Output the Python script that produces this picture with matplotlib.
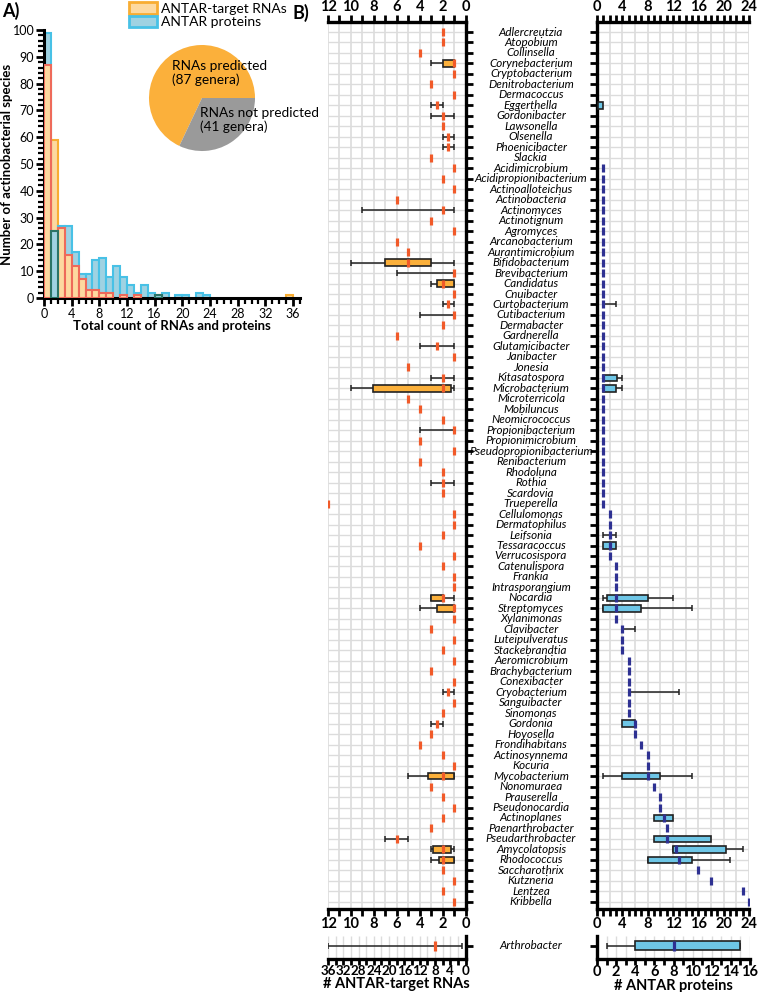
import numpy as np
import matplotlib
matplotlib.use('Agg')
import matplotlib.pyplot as plt
from matplotlib import transforms
from matplotlib.patches import Patch
from matplotlib.ticker import MultipleLocator, NullFormatter

plt.rcParams['font.family'] = ['Lato', 'DejaVu Sans']

# ---------------- Panel A data ----------------
hist_bins = list(range(37))
rna_counts = [87, 59, 26, 16, 12, 7, 3, 3, 2, 2, 0, 1, 0, 1, 0, 0, 1, 0, 0, 0,
              0, 0, 0, 0, 0, 0, 0, 0, 0, 0, 0, 0, 0, 0, 0, 1, 0]
prot_counts = [99, 25, 27, 27, 17, 9, 9, 14, 15, 8, 12, 8, 5, 2, 5, 2, 1, 2, 0, 1,
               1, 0, 2, 1, 0, 0, 0, 0, 0, 0, 0, 0, 0, 0, 0, 0, 0]
pie_values = [87, 41]
pie_labels = ['RNAs predicted\n(87 genera)', 'RNAs not predicted\n(41 genera)']
legend_labels = ['ANTAR-target RNAs', 'ANTAR proteins']

# ---------------- Panel B data ----------------
genera = ['Adlercreutzia', 'Atopobium', 'Collinsella', 'Corynebacterium', 'Cryptobacterium',
          'Denitrobacterium', 'Dermacoccus', 'Eggerthella', 'Gordonibacter', 'Lawsonella',
          'Olsenella', 'Phoenicibacter', 'Slackia', 'Acidimicrobium', 'Acidipropionibacterium',
          'Actinoalloteichus', 'Actinobacteria', 'Actinomyces', 'Actinotignum', 'Agromyces',
          'Arcanobacterium', 'Aurantimicrobium', 'Bifidobacterium', 'Brevibacterium', 'Candidatus',
          'Cnuibacter', 'Curtobacterium', 'Cutibacterium', 'Dermabacter', 'Gardnerella',
          'Glutamicibacter', 'Janibacter', 'Jonesia', 'Kitasatospora', 'Microbacterium',
          'Microterricola', 'Mobiluncus', 'Neomicrococcus', 'Propionibacterium', 'Propionimicrobium',
          'Pseudopropionibacterium', 'Renibacterium', 'Rhodoluna', 'Rothia', 'Scardovia',
          'Trueperella', 'Cellulomonas', 'Dermatophilus', 'Leifsonia', 'Tessaracoccus',
          'Verrucosispora', 'Catenulispora', 'Frankia', 'Intrasporangium', 'Nocardia',
          'Streptomyces', 'Xylanimonas', 'Clavibacter', 'Luteipulveratus', 'Stackebrandtia',
          'Aeromicrobium', 'Brachybacterium', 'Conexibacter', 'Cryobacterium', 'Sanguibacter',
          'Sinomonas', 'Gordonia', 'Hoyosella', 'Frondihabitans', 'Actinosynnema',
          'Kocuria', 'Mycobacterium', 'Nonomuraea', 'Prauserella', 'Pseudonocardia',
          'Actinoplanes', 'Paenarthrobacter', 'Pseudarthrobacter', 'Amycolatopsis', 'Rhodococcus',
          'Saccharothrix', 'Kutzneria', 'Lentzea', 'Kribbella']

rna_median = [2, 2, 4, 1, 1, 3, 1, 2.5, 2, 2,
              1.5, 1.5, 3, 1, 2, 1, 6, 2, 3, 1,
              6, 5, 5, 1, 2, 1, 1.5, 1, 2, 6,
              2.5, 1, 5, 2, 2, 5, 4, 2, 1, 4,
              1, 4, 2, 2, 2, 12, 1, 1, 2, 4,
              1, 2, 1, 1, 2, 1, 1, 3, 1, 2,
              1, 3, 1, 1.5, 1, 2, 2.5, 3, 4, 2,
              1, 2, 3, 2, 1, 2, 3, 6, 2, 2,
              2, 1, 2, 1]
rna_boxes = {'Corynebacterium': (1, 2), 'Bifidobacterium': (3, 7), 'Candidatus': (1, 2.5),
             'Microbacterium': (1.25, 8.1), 'Nocardia': (2, 3), 'Streptomyces': (1, 2.5),
             'Mycobacterium': (1, 3.3), 'Amycolatopsis': (1.25, 2.8), 'Rhodococcus': (1, 2.3)}
rna_whiskers = {'Corynebacterium': (1, 3), 'Eggerthella': (2, 3), 'Gordonibacter': (1, 3),
                'Olsenella': (1, 2), 'Phoenicibacter': (1, 2), 'Actinomyces': (1, 9),
                'Bifidobacterium': (1, 10), 'Brevibacterium': (1, 6), 'Candidatus': (1, 3),
                'Curtobacterium': (1, 2), 'Cutibacterium': (1, 4), 'Glutamicibacter': (1, 4),
                'Kitasatospora': (1, 3), 'Microbacterium': (1, 10), 'Propionibacterium': (1, 4),
                'Rothia': (1, 3), 'Nocardia': (1, 3), 'Streptomyces': (1, 4),
                'Cryobacterium': (1, 2), 'Gordonia': (2, 3), 'Mycobacterium': (1, 5),
                'Pseudarthrobacter': (5, 7), 'Amycolatopsis': (1, 3), 'Rhodococcus': (1, 3)}

nan = float('nan')
prot_median = [nan] * 13 + [1] * 33 + [2, 2, 2, 2, 2, 3, 3, 3, 3, 3,
                                       3, 4, 4, 4, 5, 5, 5, 5, 5, 5,
                                       6, 6, 7, 8, 8, 8, 9, 10, 10, 10.5,
                                       11, 11, 12.5, 13, 16, 18, 23, 24]
prot_boxes = {'Eggerthella': (0.2, 1), 'Kitasatospora': (1, 3.2), 'Microbacterium': (1, 3),
              'Tessaracoccus': (1, 3), 'Nocardia': (1.5, 8), 'Streptomyces': (1, 7),
              'Gordonia': (4, 6), 'Mycobacterium': (4, 10), 'Actinoplanes': (9, 12),
              'Pseudarthrobacter': (9, 18), 'Amycolatopsis': (12, 20.4), 'Rhodococcus': (8, 15)}
prot_whiskers = {'Curtobacterium': (1, 3), 'Kitasatospora': (1, 4), 'Microbacterium': (1, 4),
                 'Leifsonia': (1, 3), 'Nocardia': (1, 12), 'Streptomyces': (1, 15),
                 'Clavibacter': (4, 6), 'Cryobacterium': (5, 13), 'Mycobacterium': (1, 15),
                 'Amycolatopsis': (12, 23), 'Rhodococcus': (8, 21)}

extra_genus = 'Arthrobacter'
extra_rna = {'median': 8, 'box': None, 'whisker': (1, 36)}
extra_prot = {'median': 8, 'box': (4, 15), 'whisker': (1, 15)}

# ---------------- styling ----------------
RNA_FILL, RNA_EDGE = '#fdd9a0', '#f8ad32'
PROT_FILL, PROT_EDGE = '#9fd2e2', '#48c1e6'
BOX_RNA, BOX_PROT = '#fbb03b', '#6ec6e6'
MED_RNA, MED_PROT = '#f15a29', '#2e3192'
GRID = '#dcdcdc'

W, H = 758, 992
fig = plt.figure(figsize=(W / 100, H / 100), dpi=100)


def rect(x0, y0, x1, y1):
    return [x0 / W, 1 - y1 / H, (x1 - x0) / W, (y1 - y0) / H]


# ================= Panel A =================
axA = fig.add_axes(rect(44, 30, 300, 298))
xb = np.array(hist_bins)
r = np.array(rna_counts)
p = np.array(prot_counts)
bars_r = axA.bar(xb, r, width=1, align='edge', color=RNA_FILL, edgecolor=RNA_EDGE, lw=1.5)
bars_p = axA.bar(xb, p, width=1, align='edge', color=PROT_FILL, edgecolor=PROT_EDGE, lw=1.5)
for br, bp, rv, pv in zip(bars_r, bars_p, r, p):
    if rv == 0:
        br.set_visible(False)
    if pv == 0:
        bp.set_visible(False)
    if rv >= pv:
        br.set_zorder(2); bp.set_zorder(3); bp.set_edgecolor('#2a7466')
    else:
        br.set_zorder(3); bp.set_zorder(2); br.set_edgecolor('#ee6a5a')
axA.set_xlim(0, 37)
axA.set_ylim(0, 100)
axA.xaxis.set_major_locator(MultipleLocator(4))
axA.xaxis.set_minor_locator(MultipleLocator(1))
axA.yaxis.set_major_locator(MultipleLocator(10))
axA.yaxis.set_minor_locator(MultipleLocator(2))
for s in ['top', 'right']:
    axA.spines[s].set_visible(False)
for s in ['left', 'bottom']:
    axA.spines[s].set_linewidth(2.2)
axA.tick_params(which='major', direction='out', length=6, width=2, labelsize=9, pad=1)
axA.tick_params(which='minor', direction='out', length=4, width=1.6)
axA.set_xlabel('Total count of RNAs and proteins', fontsize=9.5, fontweight='bold', labelpad=0)
axA.set_ylabel('Number of actinobacterial species', fontsize=9.5, fontweight='bold', labelpad=0)

axPie = fig.add_axes(rect(149, 45, 255, 151))
axPie.pie(pie_values, colors=['#fbb03b', '#9a9a9a'], startangle=0, counterclock=True,
          wedgeprops=dict(linewidth=0))
axPie.set_aspect('equal')
axPie.set_xlim(-1, 1); axPie.set_ylim(-1, 1)
fig.text(172 / W, 1 - 60 / H, pie_labels[0], fontsize=9.8, va='top', ha='left', linespacing=1.15)
fig.text(200 / W, 1 - 107 / H, pie_labels[1], fontsize=9.8, va='top', ha='left', linespacing=1.15)

handles = [Patch(facecolor=RNA_FILL, edgecolor=RNA_EDGE, lw=2),
           Patch(facecolor=PROT_FILL, edgecolor=PROT_EDGE, lw=2)]
fig.legend(handles, legend_labels, loc='upper left', bbox_to_anchor=(128 / W, 1 - 1 / H),
           frameon=False, fontsize=10, handlelength=2.0, handleheight=0.9,
           handletextpad=0.3, labelspacing=0.05, borderaxespad=0, borderpad=0.1)

fig.text(2 / W, 1 - 2 / H, 'A)', fontsize=13, fontweight='bold', va='top')
fig.text(293 / W, 1 - 4 / H, 'B)', fontsize=13, fontweight='bold', va='top')

# ================= Panel B =================
n = len(genera)
rows = np.arange(n)
row0_px, row_sp = 32, 10.48
top_px, bot_px = 22, 909
ylim = ((bot_px - row0_px) / row_sp, -(row0_px - top_px) / row_sp)

axL = fig.add_axes(rect(328, top_px, 465.5, bot_px))
axR = fig.add_axes(rect(597, top_px, 749, bot_px))
axL.set_xlim(12, 0)
axR.set_xlim(0, 24)
for ax in (axL, axR):
    ax.set_ylim(*ylim)
    ax.hlines(rows, *ax.get_xlim(), color=GRID, lw=1, zorder=0)

axL.vlines(np.arange(1, 13, 1), *ylim, color=GRID, lw=1.2, zorder=0)
axR.vlines(np.arange(2, 25, 2), *ylim, color=GRID, lw=1.2, zorder=0)


def draw_stats(ax, ypos, med, boxes, whiskers, names, box_color, med_color, bh=0.62, ms=5.8):
    for name, (lo, hi) in whiskers.items():
        y = ypos[names.index(name)]
        ax.hlines(y, lo, hi, color='#222222', lw=1.1, zorder=2)
        ax.plot([lo, hi], [y, y], ls='none', marker='|', ms=4, mew=1.1, color='#222222', zorder=2)
    for name, (lo, hi) in boxes.items():
        y = ypos[names.index(name)]
        ax.barh(y, hi - lo, left=lo, height=bh, color=box_color, edgecolor='#222222',
                lw=1.2, zorder=3)
    m = np.array(med, dtype=float)
    ok = ~np.isnan(m)
    ax.plot(m[ok], np.asarray(ypos)[ok], ls='none', marker='|', ms=ms, mew=2.3,
            color=med_color, zorder=4)


draw_stats(axL, rows, rna_median, rna_boxes, rna_whiskers, genera, BOX_RNA, MED_RNA)
draw_stats(axR, rows, prot_median, prot_boxes, prot_whiskers, genera, BOX_PROT, MED_PROT)

for ax, side in ((axL, 'right'), (axR, 'left')):
    for s in ax.spines:
        ax.spines[s].set_linewidth(2.4)
    other = 'left' if side == 'right' else 'right'
    ax.spines[other].set_visible(False)
    ax.yaxis.set_ticks_position(side)
    ax.set_yticks(rows)
    ax.set_yticklabels([])
    ax.tick_params(axis='y', direction='out', length=5, width=2)
    ax.tick_params(axis='x', which='both', top=True, bottom=True, labeltop=True,
                   labelbottom=True, direction='out')
    ax.tick_params(axis='x', which='major', length=5, width=2, labelsize=10.5, pad=1)
    ax.tick_params(axis='x', which='minor', length=5, width=2)

axL.xaxis.set_major_locator(MultipleLocator(2))
axL.xaxis.set_minor_locator(MultipleLocator(1))
axR.xaxis.set_major_locator(MultipleLocator(4))
axR.xaxis.set_minor_locator(MultipleLocator(1))
for ax in (axL, axR):
    for lab in ax.get_xticklabels():
        lab.set_fontweight('bold')

trans = transforms.blended_transform_factory(axR.transAxes, axR.transData)
name_x = (531 - 597) / (749 - 597)
for i, g in enumerate(genera):
    axR.text(name_x, i, g, transform=trans, ha='center', va='center', fontsize=8.4,
             style='italic')

# ----- Arthrobacter insets -----
ins_top, ins_bot = 936, 959
axLi = fig.add_axes(rect(328, ins_top, 465.5, ins_bot))
axRi = fig.add_axes(rect(597, ins_top, 750, ins_bot))
axLi.set_xlim(36, 0)
axRi.set_xlim(0, 16)
for ax in (axLi, axRi):
    ax.set_ylim(1.4, -1)
axLi.vlines(np.arange(2, 37, 2), 1.4, -1, color=GRID, lw=1, zorder=0)
axRi.vlines(np.arange(1, 17, 1), 1.4, -1, color=GRID, lw=1, zorder=0)

ex = [extra_genus]
draw_stats(axLi, [0], [extra_rna['median']], {},
           {extra_genus: extra_rna['whisker']}, ex, BOX_RNA, MED_RNA, bh=0.9, ms=7)
draw_stats(axRi, [0], [extra_prot['median']], {extra_genus: extra_prot['box']},
           {extra_genus: extra_prot['whisker']}, ex, BOX_PROT, MED_PROT, bh=0.9, ms=7)

for ax, side, fs in ((axLi, 'right', 9.6), (axRi, 'left', 10.5)):
    other = 'left' if side == 'right' else 'right'
    ax.spines[other].set_visible(False)
    ax.spines['top'].set_visible(False)
    for s in ('bottom', side):
        ax.spines[s].set_linewidth(2.4)
    ax.yaxis.set_ticks_position(side)
    ax.set_yticks([0])
    ax.set_yticklabels([])
    ax.tick_params(axis='y', direction='out', length=5, width=2)
    ax.tick_params(axis='x', which='both', direction='out', length=4, width=2)
    ax.tick_params(axis='x', which='major', labelsize=fs, pad=0)

axLi.xaxis.set_major_locator(MultipleLocator(4))
axLi.xaxis.set_minor_locator(MultipleLocator(2))
axRi.xaxis.set_major_locator(MultipleLocator(2))
axRi.xaxis.set_minor_locator(MultipleLocator(1))
for ax in (axLi, axRi):
    for lab in ax.get_xticklabels():
        lab.set_fontweight('bold')
axLi.set_xlabel('# ANTAR-target RNAs', fontsize=10.5, fontweight='bold', labelpad=0)
axRi.set_xlabel('# ANTAR proteins', fontsize=10.5, fontweight='bold', labelpad=0)

transi = transforms.blended_transform_factory(axRi.transAxes, axRi.transData)
axRi.text((531 - 597) / (750 - 597), 0, extra_genus, transform=transi, ha='center',
          va='center', fontsize=8.4, style='italic')

fig.savefig('out.png', dpi=100)
